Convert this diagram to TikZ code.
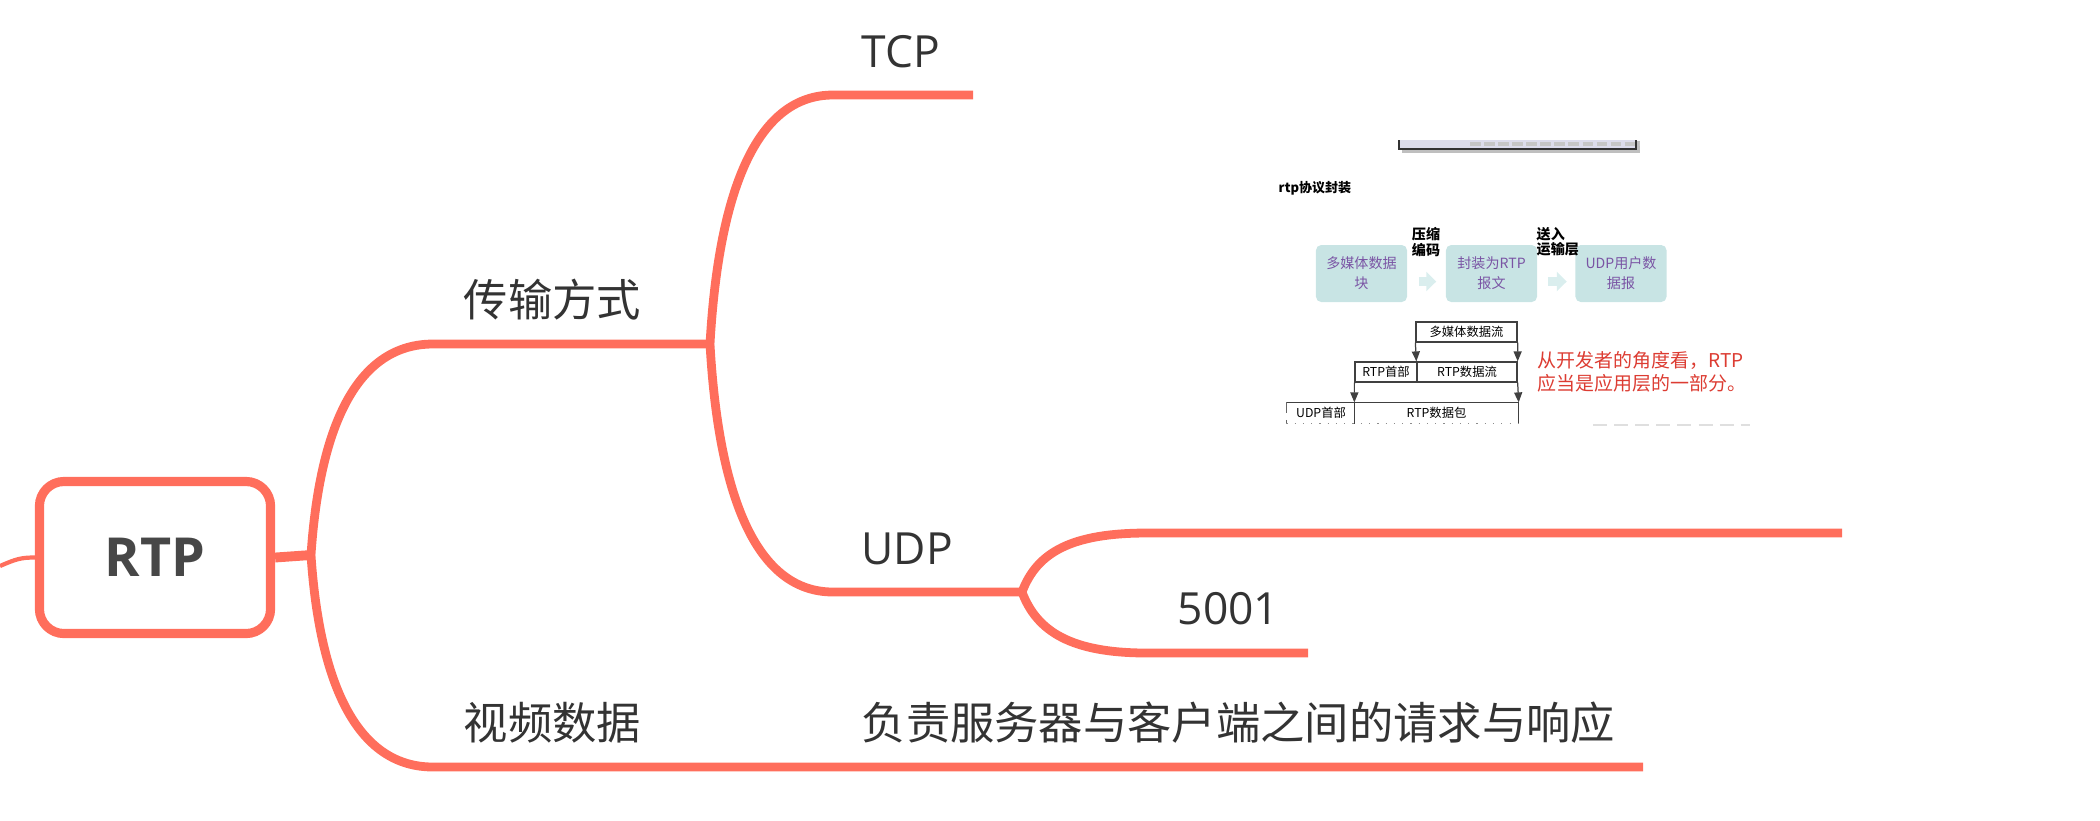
\documentclass[tikz,border=0pt]{standalone}
\usepackage{fontspec}
\setmainfont{Open Sans}
\newfontfamily\cjk{Noto Sans CJK SC}
\usetikzlibrary{arrows.meta}
\definecolor{mapline}{RGB}{255,110,92}
\definecolor{maptext}{RGB}{51,51,51}
\definecolor{boxteal}{RGB}{200,228,228}
\definecolor{arrteal}{RGB}{218,238,238}
\definecolor{boxpurple}{RGB}{122,84,164}
\definecolor{notered}{RGB}{220,60,50}
\definecolor{barfill}{RGB}{220,220,235}

\begin{document}
\begin{tikzpicture}[x=0.01cm,y=-0.01cm,
  branch/.style={draw=mapline, line width=2.5pt},
  topic/.style={anchor=base west, inner sep=0pt, text=maptext, font=\fontsize{12.6}{15}\selectfont},
  tealbox/.style={fill=boxteal, rounded corners=1.5pt, minimum width=0.91cm, minimum height=0.57cm,
    inner sep=0pt, align=center, text=boxpurple, font=\cjk\fontsize{4}{5.7}\selectfont},
  fatarrow/.style={draw=arrteal, line width=2.6pt, -{Triangle[width=0.19cm,length=0.1cm]}},
  steplabel/.style={inner sep=0pt, align=left, font=\cjk\bfseries\fontsize{4}{4.3}\selectfont},
  cell/.style={draw=black!75, line width=0.35pt, inner sep=0pt, minimum height=0.2cm,
    font=\cjk\fontsize{3.5}{4}\selectfont},
  pktarrow/.style={draw=black!75, line width=0.35pt, -{Triangle[width=0.08cm,length=0.1cm]}}]
\useasboundingbox (0,0) rectangle (2100,820);

\node[draw=mapline, line width=2.6pt, rounded corners=7pt, minimum width=2.31cm, minimum height=1.52cm,
  inner sep=0pt, text=maptext!90, font=\fontsize{15.3}{18}\selectfont\bfseries] (rtp) at (155,557.5) {RTP};

\coordinate (in) at (0,566);
\coordinate (hub) at (311,555);
\coordinate (trans-l) at (433,344);
\coordinate (trans-r) at (710,344);
\coordinate (video-l) at (433,767);
\coordinate (video-r) at (1643,767);
\coordinate (tcp-l) at (833,95);
\coordinate (tcp-r) at (973,95);
\coordinate (udp-l) at (833,592);
\coordinate (udp-r) at (1022,592);
\coordinate (pic-l) at (1147,533);
\coordinate (pic-r) at (1842,533);
\coordinate (port-l) at (1147,653);
\coordinate (port-r) at (1308,653);

\draw[branch, line width=1.2pt] (in) .. controls +(16,-7) and +(-14,0) .. (rtp.west);
\draw[branch, line width=2.8pt] (rtp.east) -- (hub);
\draw[branch] (hub) .. controls +(9,-135) and +(-73,0) .. (trans-l) -- (trans-r);
\draw[branch] (hub) .. controls +(9,135) and +(-73,0) .. (video-l) -- (video-r);
\draw[branch] (trans-r) .. controls +(9,-159) and +(-74,0) .. (tcp-l) -- (tcp-r);
\draw[branch] (trans-r) .. controls +(9,159) and +(-74,0) .. (udp-l) -- (udp-r);
\draw[branch] (udp-r) .. controls +(15,-40) and +(-75,0) .. (pic-l) -- (pic-r);
\draw[branch] (udp-r) .. controls +(15,40) and +(-75,0) .. (port-l) -- (port-r);

\node[topic] (trans) at (463,316) {\cjk 传输方式};
\node[topic] (tcp) at (861,67) {TCP};
\node[topic] (udp) at (861,564) {UDP};
\node[topic] (port) at (1177,624) {5001};
\node[topic] (video) at (463,739) {\cjk 视频数据};
\node[topic] (duty) at (861,739) {\cjk 负责服务器与客户端之间的请求与响应};

\fill[black!25] (1402,141) rectangle (1640,153);
\fill[barfill] (1399,140) rectangle (1636,149);
\draw[black!80, line width=0.8pt] (1399,140) -- (1399,149) -- (1636,149) -- (1636,140);
\draw[gray!45, line width=1pt, dash pattern=on 3pt off 1pt] (1470,144) -- (1640,144);

\node[anchor=west, inner sep=0pt, font=\cjk\bfseries\fontsize{3.7}{4}\selectfont] (caption) at (1278,188) {rtp协议封装};

\node[tealbox] (blk) at (1361.5,273.5) {多媒体数据\\块};
\node[tealbox] (rtppkt) at (1491.5,273.5) {封装为RTP\\报文};
\node[tealbox] (udppkt) at (1621,273.5) {UDP用户数\\据报};
\draw[fatarrow] ([xshift=0.11cm,yshift=-0.08cm]blk.east) -- ([xshift=-0.09cm,yshift=-0.08cm]rtppkt.west);
\draw[fatarrow] ([xshift=0.1cm,yshift=-0.08cm]rtppkt.east) -- ([xshift=-0.08cm,yshift=-0.08cm]udppkt.west);
\node[steplabel] (zip) at (1426,242) {压缩\\编码};
\node[steplabel, anchor=west] (send) at (1536,242) {送入\\运输层};

\node[cell, minimum width=1.01cm] (flow) at (1466.5,332) {多媒体数据流};
\node[cell, minimum width=0.62cm] (rtphdr) at (1386,372) {RTP首部};
\node[cell, minimum width=1.00cm] (rtpflow) at (1467,372) {RTP数据流};
\node[cell, draw=none, minimum width=0.68cm] (udphdr) at (1321,413) {UDP首部};
\node[cell, draw=none, minimum width=1.63cm] (rtpdata) at (1436.5,413) {RTP数据包};
\draw[pktarrow] (flow.south west) -- (rtpflow.north west);
\draw[pktarrow] (flow.south east) -- (rtpflow.north east);
\draw[pktarrow] (rtphdr.south west) -- (rtpdata.north west);
\draw[pktarrow] (rtpflow.south east) -- (rtpdata.north east);
\draw[black!75, line width=0.35pt] (udphdr.north west) -- (rtpdata.north east) -- (rtpdata.south east);
\draw[black!75, line width=0.35pt] (rtpdata.north west) -- (rtpdata.south west);
\draw[black!60, line width=0.35pt, densely dashed] (udphdr.north west) -- (udphdr.south west);
\draw[black!45, line width=0.35pt, dotted] (udphdr.south west) -- (rtpdata.south east);

\node[anchor=north west, inner sep=0pt, align=left, text=notered, font=\cjk\fontsize{5.4}{6.5}\selectfont] (note) at (1537,351) {从开发者的角度看，RTP\\应当是应用层的一部分。};
\draw[gray!25, line width=0.7pt, dash pattern=on 4pt off 2pt] (1593,425) -- (1750,425);
\end{tikzpicture}
\end{document}
